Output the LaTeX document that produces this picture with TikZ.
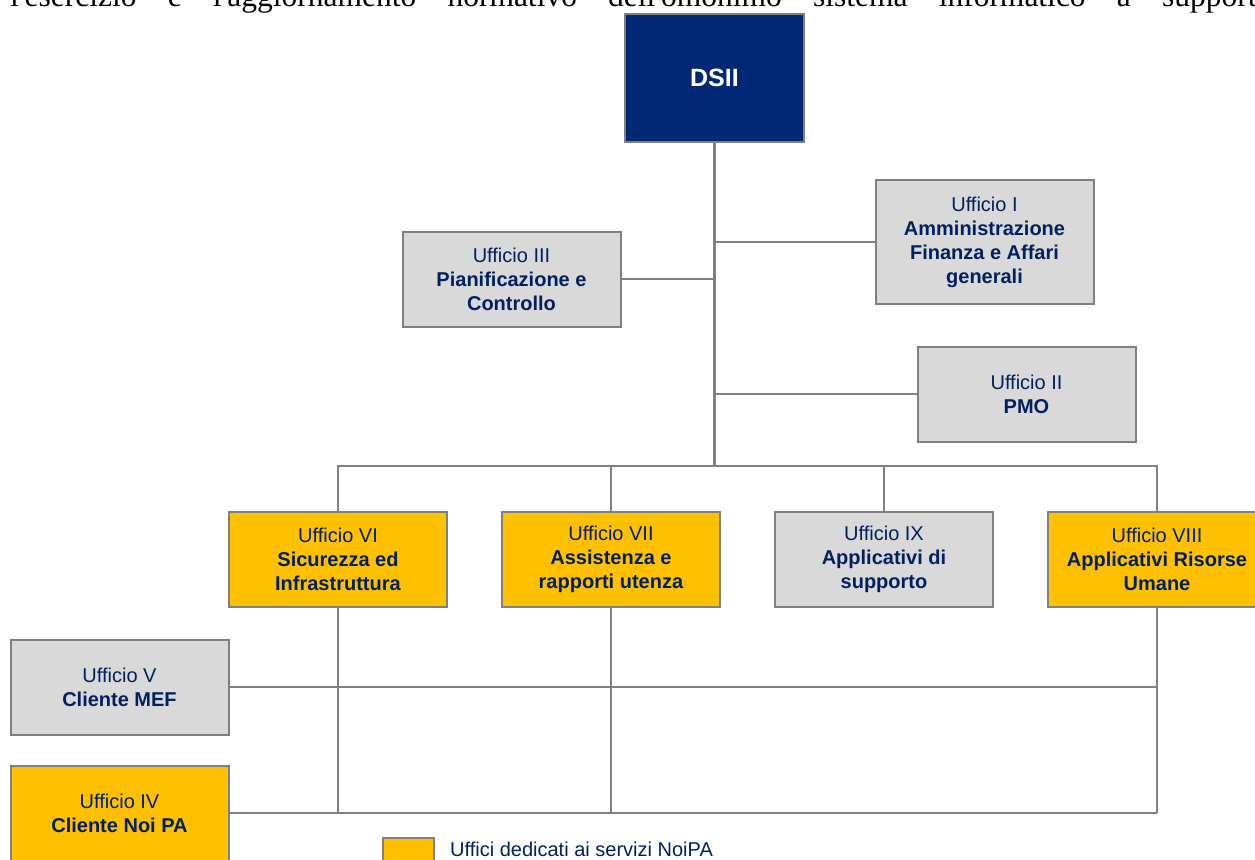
\documentclass[tikz,border=0pt]{standalone}
\usepackage{fontspec}
\setmainfont{Liberation Sans}
\newfontfamily\bodyserif{Liberation Serif}
\usepackage{tikz}
\definecolor{navy}{RGB}{0,32,96}
\definecolor{dsiiblue}{RGB}{0,40,116}
\definecolor{linegray}{RGB}{128,128,128}
\definecolor{boxgray}{RGB}{217,217,217}
\definecolor{noipa}{RGB}{255,192,0}
\tikzset{
  office/.style={draw=linegray, line width=2pt, fill=boxgray, text=navy, align=center,
    minimum width=218pt, minimum height=95pt, inner sep=0pt,
    font=\fontsize{20}{24}\selectfont},
  noipaoffice/.style={office, fill=noipa},
  link/.style={draw=linegray, line width=2pt},
}

\begin{document}
\begin{tikzpicture}[x=1pt,y=-1pt]
\useasboundingbox (0,0) rectangle (1255,859);
\node [anchor=base west, inner sep=0pt, font=\bodyserif\fontsize{31.5}{36}\selectfont] (para) at (10,7)
  {\makebox[1262pt][s]{l'esercizio e l'aggiornamento normativo dell'omonimo sistema informatico a supporto}};
\node [office, fill=dsiiblue, text=white, minimum width=179pt, minimum height=128pt,
  font=\fontsize{25}{30}\selectfont\bfseries] (dsii) at (714.5,78) {DSII};
\node [office, minimum height=124pt] (uffI) at (984.5,242) {Ufficio I\\\textbf{Amministrazione}\\\textbf{Finanza e Affari}\\\textbf{generali}};
\node [office] (uffIII) at (511.5,279) {Ufficio III\\\textbf{Pianificazione e}\\\textbf{Controllo}};
\node [office] (uffII) at (1026.5,394) {Ufficio II\\\textbf{PMO}};
\coordinate (bus) at (714.5,466);
\node [noipaoffice] (uffVI) at (338,559) {Ufficio VI\\\textbf{Sicurezza ed}\\\textbf{Infrastruttura}};
\node [noipaoffice] (uffVII) at (611,559) {Ufficio VII\\\textbf{Assistenza e}\\\textbf{rapporti utenza}};
\node [office] (uffIX) at (884,559) {Ufficio IX\\\textbf{Applicativi di}\\\textbf{supporto}};
\node [noipaoffice] (uffVIII) at (1157,559) {Ufficio VIII\\\textbf{Applicativi Risorse}\\\textbf{Umane}};
\node [office] (uffV) at (119.5,687) {Ufficio V\\\textbf{Cliente MEF}};
\node [noipaoffice] (uffIV) at (119.5,813) {Ufficio IV\\\textbf{Cliente Noi PA}};
\draw [link, line width=2.5pt] (dsii.south) -- (bus);
\draw [link] (uffI.west) -- (uffI.west -| bus);
\draw [link] (uffIII.east) -- (uffIII.east -| bus);
\draw [link] (uffII.west) -- (uffII.west -| bus);
\draw [link] (uffVI.north) |- (bus) -| (uffVIII.north);
\draw [link] (uffVII.north) -- (uffVII.north |- bus);
\draw [link] (uffIX.north) -- (uffIX.north |- bus);
\draw [link] (uffVI.south) -- (uffVI.south |- uffIV.east);
\draw [link] (uffVII.south) -- (uffVII.south |- uffIV.east);
\draw [link] (uffVIII.south) -- (uffVIII.south |- uffIV.east);
\draw [link] (uffV.east) -- (uffV.east -| uffVIII.south);
\draw [link] (uffIV.east) -- (uffIV.east -| uffVIII.south);
\node [office, fill=noipa, minimum width=51pt, minimum height=34pt] (legendbox) at (408.5,855) {};
\node [anchor=base west, inner sep=0pt, text=navy, font=\fontsize{20}{24}\selectfont] (legend) at (450,856) {Uffici dedicati ai servizi NoiPA};
\end{tikzpicture}
\end{document}
